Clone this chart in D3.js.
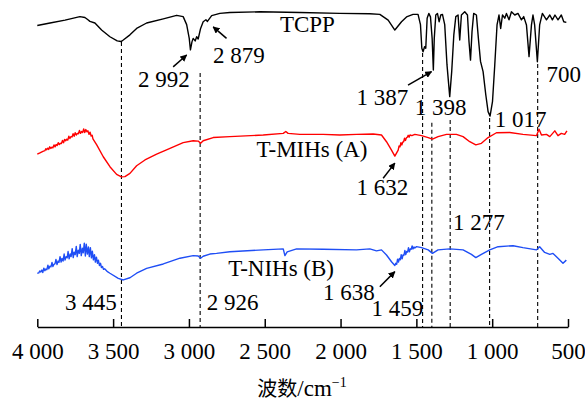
<!DOCTYPE html>
<html>
<head>
<meta charset="utf-8">
<script src="https://cdn.jsdelivr.net/npm/d3@7"></script>
<style>
  body { margin: 0; background: #fff; }
  svg text { font-family: "Liberation Serif", "Times New Roman", serif; font-size: 23px; fill: #000; }
</style>
</head>
<body>
<svg id="chart" width="585" height="403"></svg>
<script>
// wavenumber (cm-1), transmittance (a.u., offset per curve)
const tcpp = [
  [4000,94.2],[3916,95.0],[3817,95.9],[3719,97.0],[3686,96.7],[3666,96.0],[3653,95.5],[3620,95.0],
  [3576,92.8],[3521,90.7],[3473,89.4],[3448,89.2],[3433,89.7],[3389,91.3],[3345,93.3],[3279,95.0],
  [3169,96.3],[3081,97.4],[3038,97.0],[3015,94.5],[2998,90.2],[2990,86.6],[2980,89.1],[2972,90.2],
  [2959,89.4],[2949,90.7],[2939,90.0],[2923,93.3],[2906,95.4],[2888,96.0],[2878,95.5],[2850,97.3],
  [2796,98.0],[2730,98.3],[2532,98.5],[2268,98.3],[2005,98.0],[1807,97.9],[1741,97.7],[1686,95.9],
  [1642,92.8],[1598,95.4],[1565,96.9],[1522,97.7],[1489,97.7],[1473,94.5],[1464,87.1],[1456,86.0],
  [1446,87.6],[1438,87.1],[1429,96.5],[1418,98.0],[1407,96.9],[1396,90.2],[1388,80.3],[1382,90.2],
  [1372,97.5],[1361,98.0],[1350,95.4],[1339,97.5],[1328,97.7],[1313,94.5],[1298,81.9],[1280,72.0],
  [1267,79.8],[1253,91.3],[1240,97.0],[1225,97.5],[1214,89.7],[1203,97.5],[1181,98.5],[1163,97.5],
  [1153,89.2],[1143,83.4],[1133,92.3],[1122,98.0],[1104,97.5],[1091,90.2],[1077,83.0],[1060,79.8],
  [1042,72.5],[1027,67.3],[1014,65.9],[998,70.4],[983,81.9],[968,94.4],[955,97.5],[944,93.3],
  [932,97.5],[917,96.5],[906,98.0],[889,96.0],[873,98.5],[851,97.5],[830,98.0],[807,96.0],
  [792,97.0],[774,94.4],[757,84.5],[741,94.4],[731,97.5],[720,94.4],[702,82.9],[687,94.4],
  [669,98.0],[642,96.0],[620,97.5],[603,96.0],[586,97.5],[566,96.0],[544,97.5],[528,95.4],[511,95.2]
];

const tMIHs = [
  [4000,54.0],[3983,54.4],[3963,54.9],
  [3950,55.1],[3944,55.7],[3938,55.4],[3931,55.9],[3925,55.5],[3918,56.3],[3911,55.8],[3904,56.2],
  [3897,56.0],[3890,56.9],[3883,56.3],[3876,57.0],[3869,56.7],[3862,57.6],[3855,57.0],[3848,57.4],
  [3841,57.3],[3834,58.3],[3827,57.6],[3820,58.6],[3813,58.2],[3806,58.7],[3799,58.4],[3792,59.6],
  [3785,58.9],[3778,59.5],[3771,59.4],[3764,60.4],[3757,59.6],[3750,60.7],[3743,60.0],[3736,60.5],
  [3729,60.4],[3722,61.4],[3715,60.5],[3708,61.1],[3701,60.8],[3694,61.9],[3687,60.8],[3680,61.7],
  [3673,61.0],[3666,61.3],[3659,60.2],[3652,60.9],[3645,59.7],[3638,59.9],[3633,58.8],
  [3608,56.9],[3565,53.2],[3521,50.1],[3477,47.7],[3445,46.9],[3422,47.0],
  [3389,48.0],[3345,50.4],[3290,52.2],[3213,54.0],[3125,55.8],[3038,57.6],[2972,58.2],[2939,58.1],
  [2923,57.4],[2906,58.2],[2840,59.2],[2730,59.5],[2510,60.0],[2378,60.5],[2361,61.1],[2346,60.5],
  [2268,60.2],[2115,60.2],[2005,60.0],[1895,60.2],[1785,60.3],[1730,60.0],[1697,57.9],[1664,55.3],
  [1642,53.4],[1620,55.3],[1614,56.6],[1608,56.3],[1602,57.6],[1596,56.9],[1590,57.8],[1584,57.9],
  [1578,59.0],[1572,58.3],[1566,59.1],[1560,59.3],[1554,59.9],[1548,59.3],[1542,60.0],[1530,59.8],
  [1510,60.2],[1466,59.8],[1422,59.2],[1394,58.7],[1357,59.5],[1301,60.2],[1236,60.2],[1192,59.5],
  [1148,57.9],[1108,56.9],[1071,57.4],[1027,59.2],[972,60.7],[884,60.8],[797,60.2],[708,59.8],
  [691,61.8],[675,60.0],[642,60.2],[620,59.5],[587,61.3],[566,59.8],[544,60.5],[522,60.2],[507,61.3]
];

const tNIHs = [
  [4000,16.8],
  [3990,16.9],[3984,17.5],[3977,17.2],[3970,17.8],[3964,17.0],[3957,18.4],[3950,17.6],[3944,18.1],
  [3937,17.9],[3930,19.3],[3924,18.2],[3917,19.0],[3910,18.8],[3903,20.2],[3897,18.9],[3890,19.6],
  [3883,19.8],[3877,21.1],[3870,19.5],[3863,20.6],[3857,20.2],[3850,22.0],[3843,20.3],[3837,21.4],
  [3830,20.6],[3823,22.8],[3817,20.9],[3810,22.0],[3803,21.6],[3797,23.6],[3790,21.3],[3783,22.8],
  [3777,22.0],[3770,24.5],[3763,21.7],[3757,23.4],[3750,22.6],[3743,25.2],[3737,22.0],[3730,24.0],
  [3723,23.0],[3717,25.8],[3710,22.3],[3703,24.6],[3697,23.2],[3690,26.2],[3683,22.2],[3677,25.9],
  [3670,22.8],[3663,25.0],[3657,22.0],[3650,24.8],[3643,21.6],[3637,23.7],[3630,21.0],[3623,22.6],
  [3617,20.3],[3610,21.8],[3603,19.9],[3597,20.9],[3590,19.2],[3583,19.9],[3577,18.6],[3570,18.9],
  [3563,18.0],[3556,18.2],[3540,17.4],
  [3521,16.8],[3466,15.2],[3433,14.7],[3389,15.4],[3345,16.8],[3279,18.3],
  [3169,19.7],[3059,21.5],[2972,22.3],[2939,22.2],[2923,21.5],[2906,22.1],[2862,22.8],[2818,23.0],
  [2730,23.5],[2510,24.1],[2378,24.4],[2367,22.3],[2352,23.5],[2290,24.4],[2115,24.3],[1895,24.1],
  [1807,24.4],[1763,23.8],[1730,24.1],[1697,22.5],[1664,20.4],[1642,19.2],[1636,19.9],[1630,19.6],
  [1624,21.2],[1618,20.3],[1612,21.4],[1606,21.0],[1600,22.6],[1594,21.3],[1588,22.5],[1582,22.4],
  [1576,23.9],[1570,22.6],[1564,23.6],[1558,23.4],[1552,24.8],[1546,23.5],[1540,24.4],[1534,24.3],
  [1528,25.3],[1522,24.4],[1516,25.0],[1510,24.7],[1499,25.1],[1466,24.8],
  [1422,24.1],[1394,23.0],[1357,24.1],[1280,24.4],[1192,24.1],[1137,22.7],[1108,21.7],[1071,22.7],
  [1016,24.1],[961,25.1],[862,25.4],[797,24.8],[708,24.1],[687,25.1],[654,23.3],[620,22.7],
  [599,23.0],[566,21.5],[533,19.9],[511,20.9]
];

const xTicks = [4000, 3500, 3000, 2500, 2000, 1500, 1000, 500];

// dashed guide lines: wavenumber, top value
const peakLines = [[3445,89.1],[2926,79.4],[1459,85.6],[1398,63.8],[1277,64.7],[1017,65.3],[700,82.2]];

// text labels: text, wavenumber of left edge, value of baseline
const labels = [
  ["TCPP",2400,92.3],["2 992",3336,75.0],["2 879",2842,82.5],["1 387",1895,69.4],
  ["1 398",1510,66.3],["700",642,76.6],["1 017",983,62.5],["T-MIHs (A)",2554,53.2],
  ["1 632",1895,41.3],["1 277",1258,30.3],["T-NIHs (B)",2741,15.9],["1 638",2115,8.4],
  ["1 459",1796,3.4],["3 445",3817,5.3],["2 926",2883,5.3]
];

// arrows: from [w, v] to [w, v]
const arrows = [
  [[3104,81.3],[3015,85.0]],
  [[2752,90.2],[2840,93.8]],
  [[1555,75.6],[1400,79.8]],
  [[1719,46.5],[1642,51.2]],
  [[1741,12.6],[1642,17.3]]
];

const svg = d3.select('#chart');
const x = d3.scaleLinear().domain([4000, 500]).range([37.3, 568]);
const y = d3.scaleLinear().domain([0, 100]).range([327, 7]);

const fmt = d3.formatLocale({decimal: '.', thousands: ' ', grouping: [3], currency: ['', '']}).format(',');

svg.append('defs').append('marker')
  .attr('id', 'head')
  .attr('viewBox', '0 0 10 10')
  .attr('refX', 9).attr('refY', 5)
  .attr('markerWidth', 7).attr('markerHeight', 7)
  .attr('markerUnits', 'userSpaceOnUse')
  .attr('orient', 'auto')
  .append('path').attr('d', 'M0,0L10,5L0,10z').attr('fill', '#000');

// guide lines
svg.append('g').selectAll('line').data(peakLines).join('line')
  .attr('x1', d => x(d[0])).attr('x2', d => x(d[0]))
  .attr('y1', d => y(d[1])).attr('y2', y(0))
  .attr('stroke', '#000').attr('stroke-width', 1.1)
  .attr('stroke-dasharray', '4,3');

// spectra
let line = d3.line().x(d => x(d[0])).y(d => y(d[1]));
const series = [[tcpp, '#000'], [tMIHs, '#ff0000'], [tNIHs, '#1f4ef5']];
svg.append('g').selectAll('path').data(series).join('path')
  .attr('d', d => line(d[0]))
  .attr('fill', 'none')
  .attr('stroke', d => d[1])
  .attr('stroke-width', 1.4)
  .attr('stroke-linejoin', 'round');

// axis
let axis = d3.axisBottom(x).tickValues(xTicks).tickFormat(fmt)
  .tickSizeInner(-8).tickSizeOuter(0).tickPadding(16);
let gx = svg.append('g').attr('transform', `translate(0,${y(0)})`).call(axis);
gx.select('.domain').attr('stroke-width', 1.5);
gx.selectAll('.tick line').attr('stroke-width', 1.5);
gx.selectAll('text').attr('font-family', null).attr('font-size', null).attr('fill', '#000');

let title = svg.append('text')
  .attr('x', 302).attr('y', 396)
  .attr('text-anchor', 'middle');
title.append('tspan').style('font-family', '"Noto Sans CJK SC", sans-serif').style('font-size', '20px').text('波数');
title.append('tspan').text('/cm');
title.append('tspan').attr('dy', -9).style('font-size', '14px').text('−1');

// labels
svg.append('g').selectAll('text').data(labels).join('text')
  .attr('x', d => x(d[1])).attr('y', d => y(d[2]))
  .text(d => d[0]);

// arrows
svg.append('g').selectAll('line').data(arrows).join('line')
  .attr('x1', d => x(d[0][0])).attr('y1', d => y(d[0][1]))
  .attr('x2', d => x(d[1][0])).attr('y2', d => y(d[1][1]))
  .attr('stroke', '#000').attr('stroke-width', 1.5)
  .attr('marker-end', 'url(#head)');
</script>
</body>
</html>
